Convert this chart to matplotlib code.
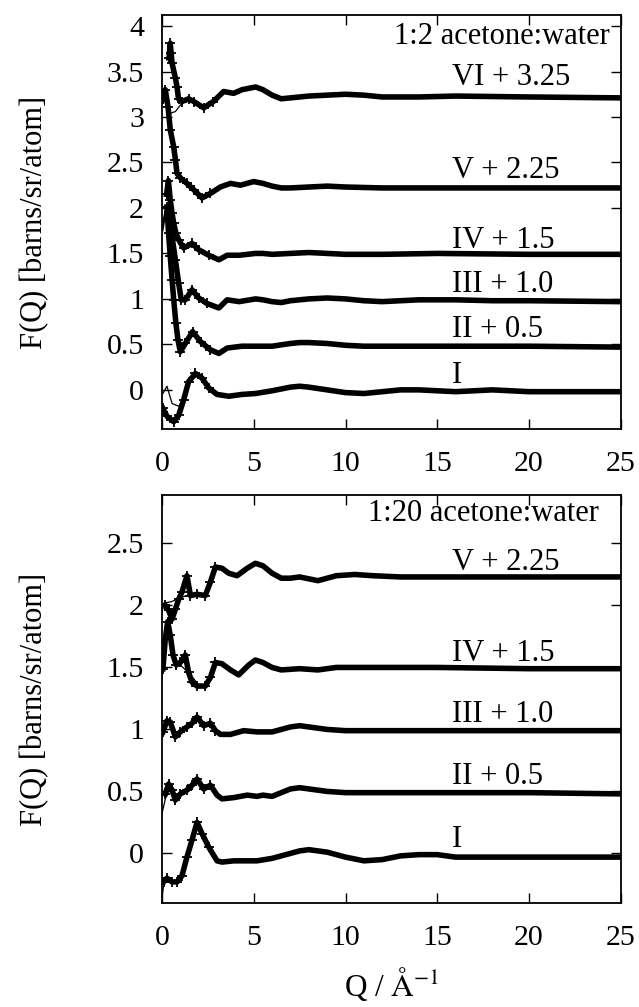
import numpy as np
import matplotlib.pyplot as plt

plt.rcParams['font.family'] = ['Liberation Serif', 'DejaVu Serif']
plt.rcParams['mathtext.fontset'] = 'stix'

# ---- 1:2 acetone:water (values as plotted, offsets already included) ----
q_t1 = [0.04, 0.27, 0.64, 0.91, 1.18, 1.45, 1.82, 2.18, 2.55, 3.0, 3.64, 4.36, 5.1, 6, 7, 7.5, 8, 9, 10, 11, 12, 13, 14, 15, 16, 17, 18, 19, 20, 22, 25]
f_t1 = [-0.2, -0.29, -0.35, -0.28, -0.11, 0.09, 0.18, 0.13, 0.02, -0.05, -0.07, -0.05, -0.04, -0.01, 0.03, 0.04, 0.03, 0.0, -0.03, -0.04, -0.02, 0.0, 0.0, -0.01, -0.02, -0.01, 0.0, -0.01, -0.02, -0.02, -0.02]
q_t2 = [0.27, 0.36, 0.45, 0.55, 0.64, 0.76, 0.87, 1.0, 1.27, 1.67, 2.1, 2.64, 3.1, 3.55, 4.36, 5.1, 6, 7, 7.5, 8, 9, 10, 11, 12, 14, 16, 20, 25]
f_t2 = [2.01, 1.72, 1.47, 1.21, 0.99, 0.73, 0.55, 0.42, 0.51, 0.64, 0.53, 0.44, 0.4, 0.46, 0.48, 0.48, 0.48, 0.51, 0.52, 0.52, 0.51, 0.49, 0.48, 0.48, 0.48, 0.48, 0.48, 0.47]
q_t3 = [0.36, 0.55, 0.73, 0.91, 1.05, 1.27, 1.64, 2.0, 2.45, 3.1, 3.55, 4.2, 5.1, 5.5, 6, 6.5, 7, 8, 9, 10, 11, 12, 13, 14, 16, 18, 20, 25]
f_t3 = [1.94, 1.68, 1.43, 1.17, 0.99, 0.99, 1.1, 1.01, 0.95, 0.9, 0.99, 0.97, 1.0, 0.99, 0.97, 0.96, 0.98, 1.0, 1.01, 1.0, 0.98, 0.97, 0.98, 0.99, 0.99, 0.98, 0.98, 0.97]
q_t4 = [0.25, 0.35, 0.45, 0.55, 0.64, 0.76, 0.91, 1.18, 1.64, 2.0, 2.55, 3.1, 3.55, 4.2, 5.1, 5.5, 6, 7, 8, 9, 10, 12, 15, 20, 25]
f_t4 = [2.15, 2.3, 2.09, 1.94, 1.83, 1.72, 1.65, 1.56, 1.61, 1.54, 1.48, 1.43, 1.48, 1.48, 1.5, 1.5, 1.49, 1.5, 1.51, 1.5, 1.49, 1.49, 1.5, 1.49, 1.49]
q_t5 = [0.05, 0.18, 0.33, 0.45, 0.64, 0.73, 0.82, 1.0, 1.36, 1.73, 2.18, 2.64, 3.18, 3.73, 4.27, 5.0, 5.5, 6, 6.5, 7, 8, 9, 10, 12, 15, 20, 25]
f_t5 = [3.2, 3.3, 3.11, 2.86, 2.67, 2.53, 2.38, 2.33, 2.27, 2.2, 2.11, 2.16, 2.23, 2.27, 2.25, 2.29, 2.27, 2.24, 2.22, 2.22, 2.23, 2.24, 2.23, 2.22, 2.22, 2.22, 2.22]
q_t6 = [0.38, 0.45, 0.5, 0.55, 0.73, 0.82, 0.9, 1.09, 1.45, 1.73, 2.27, 2.8, 3.36, 3.9, 4.36, 5.1, 5.5, 6, 6.5, 7, 8, 9, 10, 11, 12, 14, 16, 20, 25]
f_t6 = [3.65, 3.81, 3.7, 3.59, 3.43, 3.33, 3.2, 3.17, 3.2, 3.17, 3.1, 3.17, 3.28, 3.26, 3.3, 3.33, 3.3, 3.24, 3.2, 3.21, 3.23, 3.24, 3.25, 3.24, 3.22, 3.22, 3.23, 3.22, 3.21]

# fitted curves (thin line), low-Q part where they separate from the data
qf_t1 = [0.05, 0.27, 0.55, 0.91, 1.18]
ff_t1 = [-0.04, 0.04, -0.15, -0.18, -0.11]
qf_t2 = [0.05, 0.2, 0.4, 0.6, 0.8, 1.0, 1.2]
ff_t2 = [1.75, 1.95, 1.6, 1.1, 0.65, 0.44, 0.48]
qf_t3 = [0.05, 0.2, 0.4, 0.6, 0.8, 1.0, 1.2]
ff_t3 = [1.8, 1.98, 1.75, 1.45, 1.2, 1.02, 0.99]
qf_t4 = [0.05, 0.2, 0.4, 0.6, 0.8, 1.0, 1.2]
ff_t4 = [1.85, 2.0, 1.95, 1.82, 1.7, 1.62, 1.57]
qf_t5 = [0.05, 0.2, 0.4, 0.6, 0.8, 1.0, 1.4, 2.0, 2.4]
ff_t5 = [3.15, 3.28, 3.0, 2.65, 2.42, 2.33, 2.27, 2.14, 2.13]
qf_t6 = [0.1, 0.27, 0.45, 0.73, 1.0, 1.18]
ff_t6 = [3.25, 3.28, 3.04, 3.06, 3.13, 3.17]

# ---- 1:20 acetone:water ----
q_b1 = [0.09, 0.27, 0.55, 0.82, 1.09, 1.36, 1.64, 1.91, 2.18, 2.55, 3.0, 3.27, 3.91, 4.64, 5.18, 6, 7, 7.5, 8, 9, 10, 11, 12, 13, 14, 15, 16, 18, 20, 25]
f_b1 = [-0.23, -0.2, -0.23, -0.23, -0.18, -0.03, 0.11, 0.25, 0.16, 0.05, -0.06, -0.07, -0.06, -0.06, -0.06, -0.04, 0.0, 0.02, 0.03, 0.01, -0.03, -0.06, -0.05, -0.02, -0.01, -0.01, -0.03, -0.03, -0.03, -0.03]
q_b2 = [0.18, 0.36, 0.55, 0.73, 1.0, 1.36, 1.64, 1.91, 2.27, 2.64, 3.0, 3.27, 3.91, 4.64, 5.18, 5.5, 6, 7, 7.5, 8, 9, 10, 12, 15, 20, 25]
f_b2 = [0.48, 0.56, 0.51, 0.43, 0.48, 0.51, 0.55, 0.6, 0.52, 0.55, 0.47, 0.44, 0.45, 0.47, 0.46, 0.47, 0.46, 0.52, 0.53, 0.52, 0.5, 0.49, 0.49, 0.49, 0.49, 0.48]
q_b3 = [0.05, 0.27, 0.45, 0.73, 1.0, 1.36, 1.64, 1.91, 2.27, 2.64, 2.91, 3.18, 3.73, 4.45, 5.18, 6, 7, 7.5, 8, 9, 10, 12, 15, 20, 25]
f_b3 = [0.98, 1.07, 1.06, 0.94, 0.98, 1.02, 1.05, 1.1, 1.03, 1.05, 0.99, 0.96, 0.96, 0.99, 0.98, 0.98, 1.02, 1.03, 1.02, 1.0, 0.99, 0.99, 0.99, 0.99, 0.99]
q_b4 = [0.05, 0.18, 0.31, 0.45, 0.6, 0.78, 1.0, 1.27, 1.45, 1.64, 1.91, 2.36, 2.64, 2.91, 3.27, 3.73, 4.18, 4.73, 5.09, 5.5, 6, 6.5, 7.5, 8.5, 9.5, 11, 13, 15, 20, 25]
f_b4 = [1.49, 1.73, 1.87, 1.76, 1.6, 1.52, 1.54, 1.6, 1.46, 1.38, 1.35, 1.35, 1.42, 1.54, 1.53, 1.48, 1.44, 1.52, 1.56, 1.54, 1.5, 1.48, 1.49, 1.48, 1.5, 1.5, 1.5, 1.5, 1.49, 1.49]
q_b5 = [0.18, 0.36, 0.55, 0.73, 0.91, 1.09, 1.36, 1.55, 1.91, 2.36, 2.64, 2.91, 3.27, 3.64, 4.09, 4.64, 5.09, 5.5, 6, 6.5, 7, 7.5, 8.5, 9.5, 10.5, 11.5, 13, 15, 20, 25]
f_b5 = [2.0, 1.96, 1.89, 1.97, 2.05, 2.11, 2.24, 2.08, 2.09, 2.08, 2.19, 2.31, 2.3, 2.26, 2.24, 2.3, 2.34, 2.32, 2.26, 2.22, 2.22, 2.23, 2.2, 2.24, 2.25, 2.24, 2.23, 2.23, 2.23, 2.23]

qf_b1 = [0.0, 0.1, 0.3]
ff_b1 = [-0.36, -0.25, -0.21]
qf_b2 = [0.0, 0.2, 0.4, 0.6, 0.8, 1.0]
ff_b2 = [0.32, 0.45, 0.52, 0.48, 0.45, 0.48]
qf_b4 = [0.0, 0.15, 0.3, 0.5, 0.7, 1.0, 1.5, 2.0]
ff_b4 = [1.4, 1.7, 1.85, 1.7, 1.52, 1.52, 1.45, 1.36]
qf_b5 = [0.02, 0.1, 0.5, 1.0, 1.5, 2.0, 2.4, 2.7]
ff_b5 = [1.95, 2.02, 2.03, 2.06, 2.09, 2.1, 2.09, 2.18]

top_labels = ['I', 'II + 0.5', 'III + 1.0', 'IV + 1.5', 'V + 2.25', 'VI + 3.25']
top_label_y = [0.16, 0.66, 1.16, 1.64, 2.41, 3.43]
bot_labels = ['I', 'II + 0.5', 'III + 1.0', 'IV + 1.5', 'V + 2.25']
bot_label_y = [0.11, 0.62, 1.12, 1.61, 2.35]

fig = plt.figure(figsize=(6.39, 10.07), dpi=100)
ax1 = fig.add_axes([0.2535, 0.574, 0.718, 0.411])
ax2 = fig.add_axes([0.2535, 0.1033, 0.718, 0.405])

top_data = [(q_t1, f_t1), (q_t2, f_t2), (q_t3, f_t3), (q_t4, f_t4), (q_t5, f_t5), (q_t6, f_t6)]
top_fit = [(qf_t1, ff_t1), (qf_t2, ff_t2), (qf_t3, ff_t3), (qf_t4, ff_t4), (qf_t5, ff_t5), (qf_t6, ff_t6)]
bot_data = [(q_b1, f_b1), (q_b2, f_b2), (q_b3, f_b3), (q_b4, f_b4), (q_b5, f_b5)]
bot_fit = [(qf_b1, ff_b1), (qf_b2, ff_b2), (qf_b4, ff_b4), (qf_b5, ff_b5)]

for ax, data, fits in [(ax1, top_data, top_fit), (ax2, bot_data, bot_fit)]:
    for q, f in data:
        # crosses only show where the points are spread out (low Q)
        low = [i for i, v in enumerate(q) if v < 3]
        ax.plot(q, f, color='black', lw=4.0, solid_joinstyle='round',
                marker='+', ms=7, mew=1.3, markevery=low)
    for q, f in fits:
        ax.plot(q, f, color='black', lw=0.9)

for lab, y in zip(top_labels, top_label_y):
    ax1.text(15.8, y, lab, fontsize=22, va='center', ha='left')
for lab, y in zip(bot_labels, bot_label_y):
    ax2.text(15.8, y, lab, fontsize=22, va='center', ha='left')
ax1.text(24.4, 3.89, '1:2 acetone:water', fontsize=22, va='center', ha='right')
ax2.text(23.8, 2.74, '1:20 acetone:water', fontsize=22, va='center', ha='right')

ax1.set_ylim(-0.43, 4.12)
ax1.set_yticks([0, 0.5, 1, 1.5, 2, 2.5, 3, 3.5, 4])
ax1.set_yticklabels(['0', '0.5', '1', '1.5', '2', '2.5', '3', '3.5', '4'])
ax2.set_ylim(-0.40, 2.89)
ax2.set_yticks([0, 0.5, 1, 1.5, 2, 2.5])
ax2.set_yticklabels(['0', '0.5', '1', '1.5', '2', '2.5'])

for ax in (ax1, ax2):
    ax.set_xlim(0, 25)
    ax.set_xticks([0, 5, 10, 15, 20, 25])
    ax.tick_params(direction='in', top=True, right=True, length=7, width=1, labelsize=21.5)
    ax.tick_params(axis='x', pad=16)
    ax.tick_params(axis='y', pad=13)
    for s in ax.spines.values():
        s.set_linewidth(1.3)
    ax.set_ylabel('F(Q) [barns/sr/atom]', fontsize=22)
    ax.yaxis.set_label_coords(-0.245, 0.5)

ax2.set_xlabel(r'Q / $\mathrm{\AA}^{-1}$', fontsize=22.5, labelpad=10)

fig.savefig('out.png', dpi=100)
